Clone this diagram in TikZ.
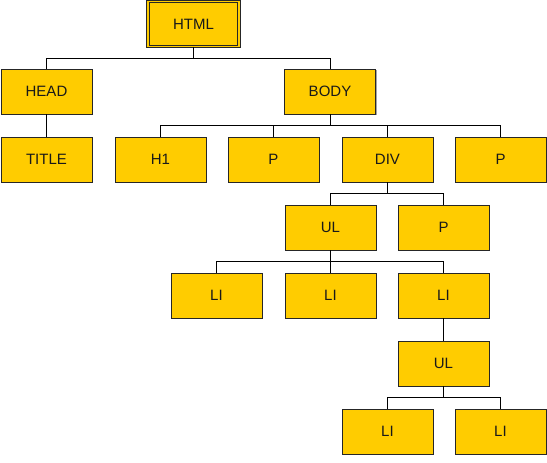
\documentclass[tikz,border=0pt]{standalone}
\usepackage{fontspec}
\setmainfont{Liberation Sans}
\usetikzlibrary{shadows}
\definecolor{boxfill}{HTML}{FFCC00}
\tikzset{
  tag/.style={draw=black!85, line width=0.9pt, fill=boxfill, minimum width=91pt, minimum height=45pt, inner sep=0pt, font=\fontsize{15}{17}\selectfont, text=black!90,
    drop shadow={shadow xshift=1.2pt, shadow yshift=-1.2pt, fill=black!45, opacity=0.8}},
  roottag/.style={tag, double=boxfill, double distance=1.6pt, line width=0.8pt},
  link/.style={draw=black, line width=0.8pt}
}
\begin{document}
\begin{tikzpicture}[x=1pt,y=-1pt]
\useasboundingbox (0,0) rectangle (547,463);
\node[roottag] (html) at (193.5,24) {HTML};
\node[tag] (head) at (46.5,91.5) {HEAD};
\node[tag] (body) at (330,91.5) {BODY};
\node[tag] (title) at (46.5,159.5) {TITLE};
\node[tag] (h1) at (160.5,159.5) {H1};
\node[tag] (p1) at (273.5,159.5) {P};
\node[tag] (div) at (387.5,159.5) {DIV};
\node[tag] (p2) at (500.5,159.5) {P};
\node[tag] (ul1) at (330.5,227.5) {UL};
\node[tag] (p3) at (443.5,227.5) {P};
\node[tag] (li1) at (216.5,295.5) {LI};
\node[tag] (li2) at (330.5,295.5) {LI};
\node[tag] (li3) at (443.5,295.5) {LI};
\node[tag] (ul2) at (443.5,363.5) {UL};
\node[tag] (li4) at (387.5,431.5) {LI};
\node[tag] (li5) at (500.5,431.5) {LI};
% HTML children
\draw[link] (html.south) -- ++(0,11) coordinate (hb);
\draw[link] (head.north) |- (hb) -| (body.north);
% HEAD child
\draw[link] (head.south) -- (title.north);
% BODY children
\draw[link] (body.south) -- ++(0,11) coordinate (bb);
\draw[link] (h1.north) |- (bb) -| (p2.north);
\draw[link] (p1.north) |- (bb);
\draw[link] (div.north) |- (bb);
% DIV children
\draw[link] (div.south) -- ++(0,11) coordinate (db);
\draw[link] (ul1.north) |- (db) -| (p3.north);
% UL children
\draw[link] (ul1.south) -- ++(0,11) coordinate (ub);
\draw[link] (li1.north) |- (ub) -| (li3.north);
\draw[link] (li2.north) -- (ub);
% LI child
\draw[link] (li3.south) -- (ul2.north);
% UL2 children
\draw[link] (ul2.south) -- ++(0,11) coordinate (u2b);
\draw[link] (li4.north) |- (u2b) -| (li5.north);
\end{tikzpicture}
\end{document}
